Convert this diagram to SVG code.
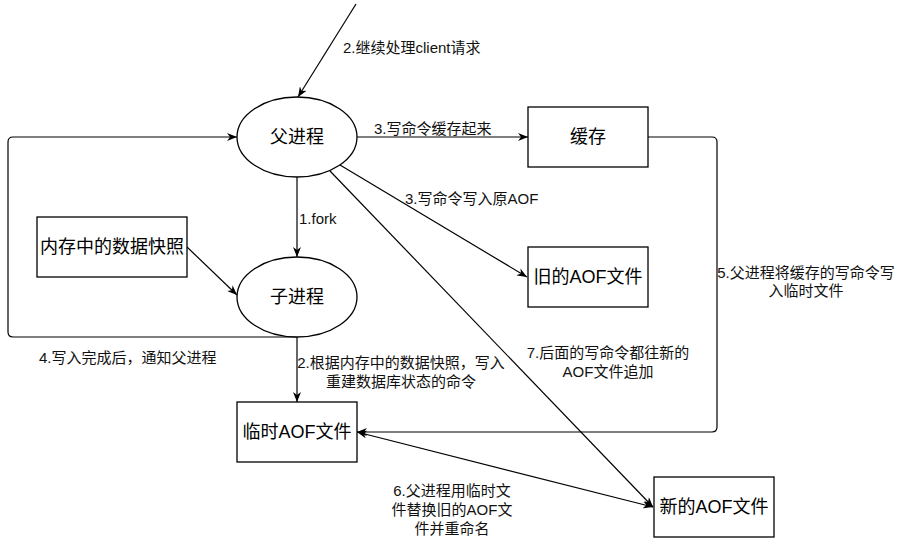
<svg xmlns="http://www.w3.org/2000/svg" width="898" height="538" viewBox="0 0 898 538">
<defs>
<style>
.shape{fill:#fff;stroke:#000;stroke-width:1.3}
.edge{fill:none;stroke:#000;stroke-width:1.2}
.nl{font-family:"Liberation Sans","Noto Sans CJK SC",sans-serif;font-size:18px;fill:#000;text-anchor:middle;dominant-baseline:central}
.el{font-family:"Liberation Sans","Noto Sans CJK SC",sans-serif;font-size:15px;fill:#111;dominant-baseline:central}
.c{text-anchor:middle}
</style>
<marker id="arr" viewBox="0 0 10 8" refX="10" refY="4" markerWidth="10" markerHeight="8" markerUnits="userSpaceOnUse" orient="auto-start-reverse">
<path d="M0,0 L10,4 L0,8 L3,4 z" fill="#000"/>
</marker>
</defs>
<rect width="898" height="538" fill="#fff"/>

<g id="connectors">
<path id="e_client" class="edge" d="M356,4 L298,97" marker-end="url(#arr)"/>
<path id="e_fork" class="edge" d="M297,177 L297,257" marker-end="url(#arr)"/>
<path id="e_snapshot" class="edge" d="M187,247 L237,295" marker-end="url(#arr)"/>
<path id="e_cache" class="edge" d="M357,137 L528,137" marker-end="url(#arr)"/>
<path id="e_old" class="edge" d="M340,165 L527,277" marker-end="url(#arr)"/>
<path id="e_new" class="edge" d="M330,171 L653,507" marker-end="url(#arr)"/>
<path id="e_notify" class="edge" d="M297,337 L13,337 Q8,337 8,332 L8,142 Q8,137 13,137 L237,137" marker-end="url(#arr)"/>
<path id="e_write" class="edge" d="M297,337 L297,402" marker-end="url(#arr)"/>
<path id="e_cache2tmp" class="edge" d="M648,137 L712,137 Q717,137 717,142 L717,427 Q717,432 712,432 L357,432" marker-end="url(#arr)"/>
<path id="e_replace" class="edge" d="M357,432 L653,507" marker-start="url(#arr)" marker-end="url(#arr)"/>

<text class="el" x="343" y="47">2.继续处理client请求</text>
<text class="el" x="374" y="128">3.写命令缓存起来</text>
<text class="el" x="405" y="198">3.写命令写入原AOF</text>
<text class="el" x="299" y="218">1.fork</text>
<text class="el" x="39" y="357">4.写入完成后，通知父进程</text>
<text class="el c" x="401" y="362">2.根据内存中的数据快照，写入</text>
<text class="el c" x="401" y="381">重建数据库状态的命令</text>
<text class="el c" x="806" y="272">5.父进程将缓存的写命令写</text>
<text class="el c" x="806" y="290">入临时文件</text>
<text class="el c" x="608" y="352">7.后面的写命令都往新的</text>
<text class="el c" x="608" y="371">AOF文件追加</text>
<text class="el c" x="452" y="490">6.父进程用临时文</text>
<text class="el c" x="452" y="509">件替换旧的AOF文</text>
<text class="el c" x="452" y="528">件并重命名</text>
</g>

<g id="parent">
<ellipse class="shape" cx="297" cy="137" rx="60" ry="40"/>
<text class="nl" x="297" y="137">父进程</text>
</g>
<g id="child">
<ellipse class="shape" cx="297" cy="297" rx="60" ry="40"/>
<text class="nl" x="297" y="297">子进程</text>
</g>
<g id="cache">
<rect class="shape" x="528" y="107" width="120" height="60"/>
<text class="nl" x="588" y="137">缓存</text>
</g>
<g id="oldaof">
<rect class="shape" x="528" y="247" width="120" height="60"/>
<text class="nl" x="588" y="277">旧的AOF文件</text>
</g>
<g id="snapshot">
<rect class="shape" x="37" y="217" width="150" height="60"/>
<text class="nl" x="112" y="247">内存中的数据快照</text>
</g>
<g id="tmpaof">
<rect class="shape" x="237" y="402" width="120" height="60"/>
<text class="nl" x="297" y="432">临时AOF文件</text>
</g>
<g id="newaof">
<rect class="shape" x="654" y="477" width="120" height="60"/>
<text class="nl" x="714" y="507">新的AOF文件</text>
</g>
</svg>
